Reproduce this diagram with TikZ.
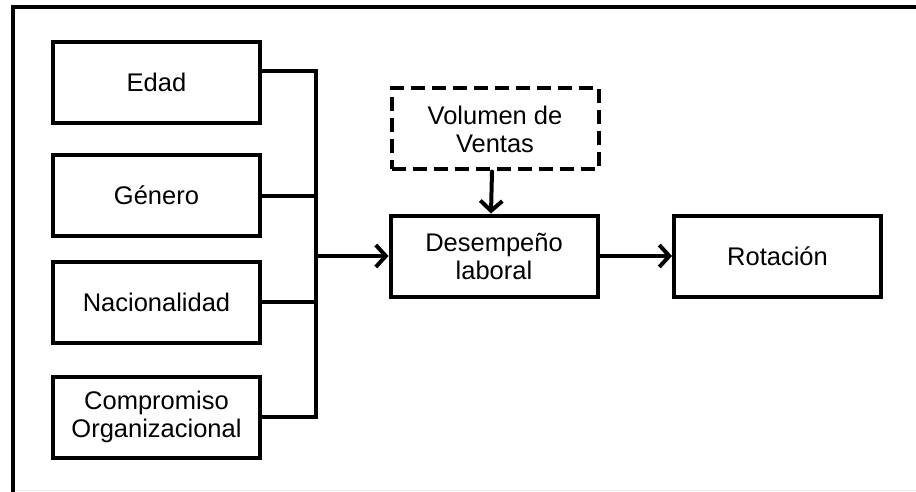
\documentclass[tikz,border=0pt]{standalone}
\usepackage{fontspec}
\setmainfont{Liberation Sans}
\usetikzlibrary{arrows.meta}

\tikzset{
	varbox/.style={draw, line width=4pt, minimum width=207pt, minimum height=81pt, align=center, inner sep=0pt, font=\fontsize{25.5}{28}\selectfont},
	modbox/.style={varbox, dash pattern=on 14pt off 7pt},
	conn/.style={line width=4pt},
	flecha/.style={conn, line cap=round, -{Straight Barb[length=10pt,width=22pt,line width=4pt]}}
}

\begin{document}
\begin{tikzpicture}[x=1pt, y=-1pt]
	\useasboundingbox (0,0) rectangle (916,492);
	% marco
	\draw[line width=3.5pt] (13,492) -- (13,7) -- (916,7);
	\draw[gray!15, line width=1pt] (15,490) -- (916,490);
	
	% variables independientes
	\node[varbox] (edad) at (156.5,82.5) {Edad};
	\node[varbox] (genero) at (156.5,195.5) {Género};
	\node[varbox] (nacion) at (156.5,302) {Nacionalidad};
	\node[varbox] (compromiso) at (156.5,417) {Compromiso\\Organizacional};
	
	\node[modbox] (volumen) at (495,129) {Volumen de\\Ventas};
	\node[varbox] (desempeno) at (494,256) {Desempeño\\laboral};
	\node[varbox] (rotacion) at (777.5,256) {Rotación};
	
	\coordinate (bus) at (316,256);
	
	\draw[conn] ([yshift=-31pt]edad.north east) -| (bus);
	\draw[conn] (genero.east) -| (bus);
	\draw[conn] (nacion.east) -| (bus);
	\draw[conn] (compromiso.east) -| (bus);
	
	\draw[flecha] (bus) -- (desempeno.west);
	\draw[flecha] ([xshift=-3pt]volumen.south) -- ([xshift=-3pt]desempeno.north);
	\draw[flecha] (desempeno.east) -- (rotacion.west);
	
\end{tikzpicture}
\end{document}
